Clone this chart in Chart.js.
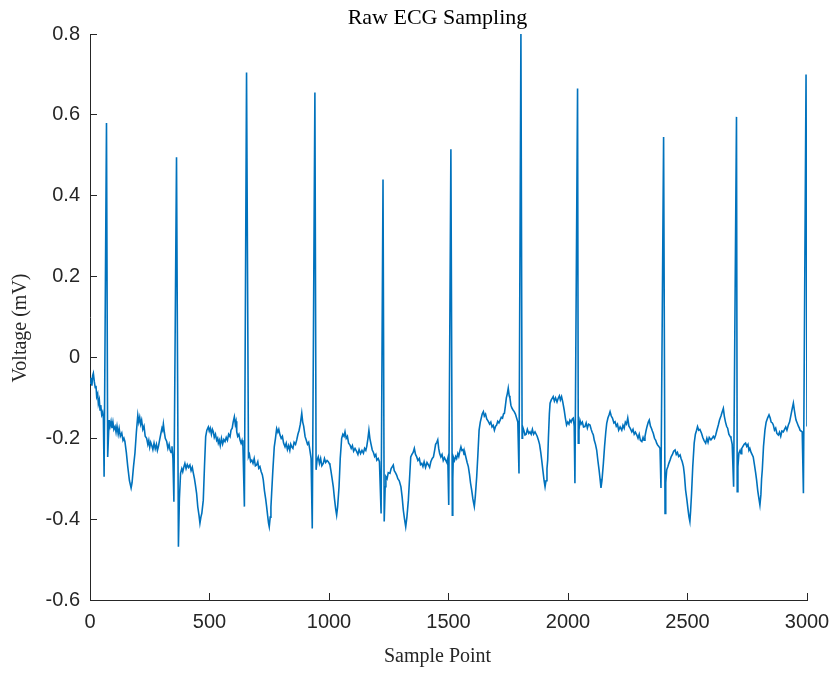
<!DOCTYPE html>
<html>
<head>
<meta charset="utf-8">
<script src="https://cdn.jsdelivr.net/npm/chart.js@4.4.0/dist/chart.umd.min.js"></script>
<style>
html,body{margin:0;padding:0;background:#ffffff;}
#wrap{width:834px;height:673px;position:relative;}
</style>
</head>
<body>
<div id="wrap"><canvas id="c" width="834" height="673"></canvas></div>
<script>
const chartTitle = 'Raw ECG Sampling';
const xAxisTitle = 'Sample Point';
const yAxisTitle = 'Voltage (mV)';

const xTickValues = [0, 500, 1000, 1500, 2000, 2500, 3000];
const xTickLabels = ['0', '500', '1000', '1500', '2000', '2500', '3000'];
const yTickValues = [-0.6, -0.4, -0.2, 0, 0.2, 0.4, 0.6, 0.8];
const yTickLabels = ['-0.6', '-0.4', '-0.2', '0', '0.2', '0.4', '0.6', '0.8'];

// [sample index, voltage in mV]
const ecgTrace = [
 [0,-0.064],[4,-0.05],[8,-0.07],[11,-0.045],[14,-0.039],[18,-0.06],[22,-0.075],[25,-0.07],[28,-0.097],[32,-0.09],
 [35,-0.115],[39,-0.105],[42,-0.13],[45,-0.118],[49,-0.142],[53,-0.135],[56,-0.15],[59,-0.295],[69,0.58],[74,-0.246],
 [77,-0.2],[80,-0.155],[84,-0.17],[88,-0.158],[92,-0.175],[96,-0.16],[100,-0.178],[105,-0.171],[109,-0.185],[113,-0.17],
 [118,-0.19],[122,-0.176],[127,-0.195],[133,-0.187],[138,-0.205],[142,-0.2],[146,-0.208],[152,-0.235],[158,-0.27],[165,-0.305],
 [172,-0.323],[176,-0.31],[182,-0.27],[188,-0.237],[194,-0.185],[200,-0.143],[204,-0.16],[208,-0.148],[212,-0.165],[216,-0.155],
 [221,-0.178],[226,-0.17],[231,-0.195],[237,-0.2],[242,-0.215],[246,-0.205],[250,-0.222],[254,-0.21],[258,-0.217],[263,-0.228],
 [268,-0.212],[273,-0.226],[278,-0.215],[282,-0.23],[286,-0.221],[291,-0.205],[296,-0.19],[301,-0.175],[304,-0.18],[307,-0.165],
 [311,-0.185],[315,-0.2],[321,-0.208],[326,-0.225],[331,-0.215],[335,-0.229],[339,-0.235],[343,-0.22],[347,-0.25],[351,-0.357],
 [362,0.495],[370,-0.468],[374,-0.35],[379,-0.286],[384,-0.275],[388,-0.283],[393,-0.27],[397,-0.262],[402,-0.275],[407,-0.265],
 [412,-0.272],[418,-0.266],[423,-0.28],[428,-0.272],[432,-0.285],[437,-0.3],[441,-0.315],[446,-0.336],[451,-0.37],[456,-0.39],
 [460,-0.41],[464,-0.395],[468,-0.385],[474,-0.353],[479,-0.27],[484,-0.196],[489,-0.18],[495,-0.172],[499,-0.182],[503,-0.175],
 [508,-0.19],[512,-0.178],[516,-0.184],[520,-0.198],[525,-0.19],[530,-0.205],[534,-0.2],[537,-0.212],[541,-0.205],[545,-0.218],
 [550,-0.2],[555,-0.214],[560,-0.203],[565,-0.208],[570,-0.198],[575,-0.205],[580,-0.19],[586,-0.196],[590,-0.18],[595,-0.175],
 [599,-0.16],[604,-0.147],[608,-0.165],[611,-0.158],[614,-0.184],[618,-0.195],[623,-0.19],[628,-0.205],[632,-0.212],[636,-0.205],
 [640,-0.22],[646,-0.369],[655,0.705],[663,-0.246],[667,-0.24],[672,-0.258],[677,-0.254],[682,-0.262],[687,-0.25],[692,-0.268],
 [697,-0.266],[702,-0.258],[706,-0.274],[711,-0.27],[716,-0.282],[721,-0.29],[725,-0.303],[730,-0.33],[735,-0.35],[739,-0.369],
 [743,-0.39],[747,-0.41],[750,-0.419],[754,-0.395],[757,-0.37],[760,-0.336],[765,-0.28],[771,-0.221],[776,-0.2],[781,-0.176],
 [786,-0.185],[790,-0.178],[795,-0.192],[800,-0.2],[805,-0.195],[810,-0.212],[816,-0.221],[821,-0.212],[826,-0.228],[831,-0.218],
 [836,-0.23],[840,-0.215],[844,-0.221],[849,-0.225],[854,-0.21],[860,-0.215],[865,-0.204],[870,-0.19],[875,-0.18],[880,-0.165],
 [886,-0.138],[890,-0.16],[894,-0.17],[900,-0.196],[905,-0.205],[910,-0.215],[915,-0.21],[920,-0.229],[925,-0.25],[930,-0.423],
 [941,0.655],[946,-0.278],[950,-0.255],[955,-0.246],[960,-0.262],[965,-0.25],[970,-0.268],[976,-0.262],[981,-0.25],[986,-0.26],
 [992,-0.255],[997,-0.258],[1001,-0.262],[1004,-0.266],[1008,-0.28],[1013,-0.3],[1018,-0.32],[1023,-0.35],[1028,-0.375],[1032,-0.39],
 [1036,-0.37],[1042,-0.32],[1047,-0.25],[1053,-0.2],[1058,-0.19],[1063,-0.195],[1067,-0.184],[1072,-0.2],[1077,-0.195],[1082,-0.212],
 [1088,-0.217],[1093,-0.225],[1098,-0.218],[1103,-0.232],[1109,-0.225],[1116,-0.233],[1121,-0.24],[1126,-0.228],[1132,-0.238],[1138,-0.23],
 [1144,-0.237],[1149,-0.225],[1154,-0.23],[1158,-0.22],[1163,-0.2],[1167,-0.18],[1171,-0.2],[1176,-0.215],[1181,-0.229],[1186,-0.235],
 [1191,-0.245],[1196,-0.24],[1200,-0.254],[1206,-0.25],[1211,-0.258],[1218,-0.386],[1226,0.44],[1231,-0.406],[1235,-0.32],[1238,-0.295],
 [1243,-0.3],[1248,-0.285],[1255,-0.287],[1260,-0.275],[1265,-0.27],[1269,-0.266],[1273,-0.28],[1278,-0.285],[1283,-0.291],[1288,-0.3],
 [1294,-0.305],[1301,-0.32],[1306,-0.345],[1311,-0.378],[1316,-0.4],[1321,-0.419],[1326,-0.395],[1332,-0.353],[1337,-0.3],[1342,-0.246],
 [1347,-0.24],[1352,-0.235],[1357,-0.225],[1362,-0.24],[1367,-0.246],[1372,-0.255],[1378,-0.25],[1383,-0.265],[1388,-0.262],[1393,-0.27],
 [1398,-0.258],[1404,-0.272],[1410,-0.26],[1416,-0.266],[1421,-0.272],[1426,-0.258],[1432,-0.25],[1437,-0.246],[1442,-0.23],[1446,-0.215],
 [1451,-0.21],[1455,-0.204],[1459,-0.225],[1463,-0.238],[1468,-0.246],[1473,-0.24],[1478,-0.255],[1483,-0.248],[1488,-0.254],[1493,-0.26],
 [1497,-0.25],[1501,-0.365],[1510,0.515],[1516,-0.39],[1518,-0.3],[1520,-0.246],[1525,-0.255],[1530,-0.245],[1534,-0.25],[1539,-0.238],
 [1543,-0.245],[1548,-0.23],[1552,-0.221],[1556,-0.23],[1561,-0.228],[1565,-0.24],[1569,-0.237],[1574,-0.25],[1578,-0.26],[1583,-0.27],
 [1588,-0.29],[1592,-0.31],[1597,-0.328],[1602,-0.35],[1605,-0.36],[1608,-0.369],[1612,-0.345],[1618,-0.295],[1623,-0.24],[1628,-0.18],
 [1633,-0.16],[1637,-0.15],[1641,-0.14],[1646,-0.134],[1650,-0.145],[1655,-0.14],[1660,-0.152],[1667,-0.159],[1672,-0.165],[1677,-0.16],
 [1682,-0.172],[1687,-0.168],[1692,-0.18],[1697,-0.17],[1701,-0.168],[1706,-0.158],[1711,-0.162],[1716,-0.155],[1721,-0.148],[1726,-0.15],
 [1730,-0.14],[1734,-0.138],[1738,-0.12],[1742,-0.1],[1746,-0.09],[1750,-0.076],[1754,-0.095],[1757,-0.1],[1761,-0.118],[1765,-0.125],
 [1770,-0.13],[1775,-0.134],[1780,-0.14],[1785,-0.15],[1790,-0.16],[1795,-0.287],[1803,0.8],[1808,-0.2],[1810,-0.171],[1815,-0.18],
 [1820,-0.192],[1825,-0.19],[1830,-0.178],[1836,-0.188],[1841,-0.184],[1846,-0.19],[1851,-0.178],[1856,-0.19],[1862,-0.184],[1867,-0.19],
 [1871,-0.195],[1876,-0.204],[1881,-0.215],[1886,-0.235],[1890,-0.254],[1895,-0.28],[1900,-0.305],[1904,-0.32],[1908,-0.305],[1912,-0.275],
 [1915,-0.254],[1918,-0.2],[1922,-0.14],[1925,-0.113],[1930,-0.105],[1935,-0.1],[1938,-0.097],[1943,-0.108],[1948,-0.1],[1954,-0.11],
 [1959,-0.101],[1964,-0.095],[1968,-0.105],[1973,-0.097],[1978,-0.11],[1981,-0.12],[1984,-0.13],[1989,-0.15],[1994,-0.167],[1999,-0.16],
 [2004,-0.165],[2008,-0.155],[2013,-0.16],[2018,-0.152],[2022,-0.15],[2026,-0.17],[2029,-0.311],[2040,0.665],[2043,-0.212],[2046,-0.18],
 [2050,-0.155],[2055,-0.165],[2060,-0.16],[2065,-0.172],[2071,-0.171],[2076,-0.162],[2081,-0.175],[2086,-0.165],[2092,-0.167],[2097,-0.178],
 [2101,-0.185],[2106,-0.192],[2110,-0.205],[2115,-0.215],[2120,-0.229],[2125,-0.255],[2130,-0.278],[2134,-0.3],[2138,-0.323],[2142,-0.305],
 [2148,-0.262],[2153,-0.22],[2158,-0.185],[2162,-0.163],[2167,-0.15],[2172,-0.142],[2176,-0.134],[2181,-0.145],[2186,-0.15],[2192,-0.162],
 [2197,-0.159],[2202,-0.17],[2207,-0.165],[2212,-0.18],[2218,-0.172],[2225,-0.18],[2230,-0.168],[2235,-0.175],[2240,-0.16],[2245,-0.165],
 [2250,-0.15],[2255,-0.17],[2260,-0.175],[2267,-0.184],[2272,-0.178],[2277,-0.19],[2282,-0.185],[2288,-0.192],[2293,-0.2],[2298,-0.19],
 [2303,-0.205],[2309,-0.208],[2314,-0.198],[2318,-0.205],[2322,-0.196],[2327,-0.18],[2331,-0.17],[2336,-0.16],[2340,-0.155],[2345,-0.17],
 [2349,-0.175],[2353,-0.182],[2357,-0.188],[2362,-0.2],[2367,-0.205],[2371,-0.212],[2375,-0.217],[2380,-0.22],[2385,-0.225],[2389,-0.323],
 [2400,0.545],[2406,-0.386],[2409,-0.31],[2413,-0.278],[2418,-0.27],[2422,-0.262],[2427,-0.254],[2432,-0.245],[2437,-0.24],[2442,-0.232],
 [2448,-0.229],[2453,-0.24],[2458,-0.235],[2463,-0.245],[2469,-0.241],[2473,-0.25],[2478,-0.258],[2483,-0.27],[2487,-0.29],[2492,-0.328],
 [2497,-0.35],[2502,-0.375],[2506,-0.394],[2510,-0.406],[2513,-0.38],[2517,-0.336],[2522,-0.27],[2528,-0.212],[2533,-0.19],[2538,-0.18],
 [2542,-0.171],[2547,-0.18],[2552,-0.178],[2559,-0.188],[2564,-0.198],[2569,-0.205],[2576,-0.212],[2581,-0.2],[2586,-0.21],[2591,-0.198],
 [2598,-0.204],[2603,-0.2],[2608,-0.195],[2613,-0.2],[2618,-0.192],[2623,-0.18],[2629,-0.167],[2634,-0.155],[2640,-0.145],[2645,-0.135],
 [2650,-0.126],[2654,-0.145],[2659,-0.16],[2664,-0.171],[2668,-0.175],[2673,-0.19],[2678,-0.195],[2682,-0.2],[2687,-0.215],[2693,-0.32],
 [2705,0.595],[2708,-0.332],[2711,-0.27],[2715,-0.237],[2720,-0.23],[2724,-0.238],[2727,-0.225],[2732,-0.22],[2737,-0.215],[2743,-0.212],
 [2748,-0.22],[2753,-0.215],[2757,-0.23],[2761,-0.225],[2766,-0.235],[2770,-0.24],[2775,-0.246],[2780,-0.265],[2785,-0.285],[2789,-0.303],
 [2794,-0.33],[2799,-0.35],[2803,-0.365],[2807,-0.34],[2810,-0.3],[2813,-0.278],[2818,-0.22],[2824,-0.18],[2829,-0.16],[2835,-0.15],
 [2841,-0.142],[2846,-0.15],[2850,-0.16],[2855,-0.162],[2859,-0.167],[2864,-0.18],[2869,-0.175],[2874,-0.188],[2880,-0.192],[2885,-0.185],
 [2890,-0.195],[2895,-0.182],[2901,-0.184],[2906,-0.178],[2911,-0.172],[2916,-0.18],[2922,-0.167],[2927,-0.16],[2932,-0.145],[2937,-0.13],
 [2943,-0.113],[2947,-0.13],[2951,-0.145],[2954,-0.155],[2959,-0.162],[2964,-0.17],[2968,-0.175],[2971,-0.18],[2975,-0.182],[2980,-0.184],
 [2985,-0.336],[2996,0.70],[3000,-0.171]
];

const axisColor = '#262626';

const labelPlugin = {
  id: 'matlabLabels',
  afterDraw(chart) {
    const {ctx, chartArea} = chart;
    const cx = (chartArea.left + chartArea.right) / 2 - 11;
    const cy = (chartArea.top + chartArea.bottom) / 2 + 11;
    ctx.save();
    ctx.fillStyle = '#000000';
    ctx.textAlign = 'center';
    ctx.textBaseline = 'middle';
    ctx.font = '22px "Liberation Serif", "Times New Roman", serif';
    ctx.fillText(chartTitle, cx, 18);
    ctx.fillStyle = axisColor;
    ctx.font = '20px "Liberation Serif", "Times New Roman", serif';
    ctx.fillText(xAxisTitle, cx, 657);
    ctx.translate(21, cy);
    ctx.rotate(-Math.PI / 2);
    ctx.fillText(yAxisTitle, 0, 0);
    ctx.restore();
  }
};

new Chart(document.getElementById('c'), {
  type: 'line',
  data: {
    datasets: [{
      data: ecgTrace.map(p => ({x: p[0], y: p[1]})),
      borderColor: '#0072BD',
      borderWidth: 1.6,
      borderJoinStyle: 'miter',
      pointRadius: 0,
      tension: 0,
      fill: false
    }]
  },
  options: {
    responsive: false,
    animation: false,
    events: [],
    layout: {padding: {top: 34, left: 0, right: 0, bottom: 0}},
    plugins: {
      legend: {display: false},
      tooltip: {enabled: false},
      title: {display: false}
    },
    scales: {
      x: {
        type: 'linear',
        min: 0,
        max: 3000,
        afterBuildTicks: s => { s.ticks = xTickValues.map(v => ({value: v})); },
        afterFit: s => { s.height = 73; s.paddingRight = 27; s.paddingLeft = 0; },
        ticks: {
          callback: (v, i) => xTickLabels[i],
          color: axisColor,
          font: {family: '"Liberation Sans", Arial, sans-serif', size: 20},
          padding: 17,
          maxRotation: 0,
          autoSkip: false
        },
        grid: {drawOnChartArea: false, drawTicks: true, tickLength: -7, color: axisColor, tickColor: axisColor, tickWidth: 1},
        border: {display: true, color: axisColor, width: 1}
      },
      y: {
        type: 'linear',
        min: -0.6,
        max: 0.8,
        afterBuildTicks: s => { s.ticks = yTickValues.map(v => ({value: v})); },
        afterFit: s => { s.width = 90; s.paddingTop = 0; s.paddingBottom = 0; },
        ticks: {
          callback: (v, i) => yTickLabels[i],
          color: axisColor,
          font: {family: '"Liberation Sans", Arial, sans-serif', size: 20},
          padding: 17,
          autoSkip: false
        },
        grid: {drawOnChartArea: false, drawTicks: true, tickLength: -7, color: axisColor, tickColor: axisColor, tickWidth: 1},
        border: {display: true, color: axisColor, width: 1}
      }
    }
  },
  plugins: [labelPlugin]
});
</script>
</body>
</html>
